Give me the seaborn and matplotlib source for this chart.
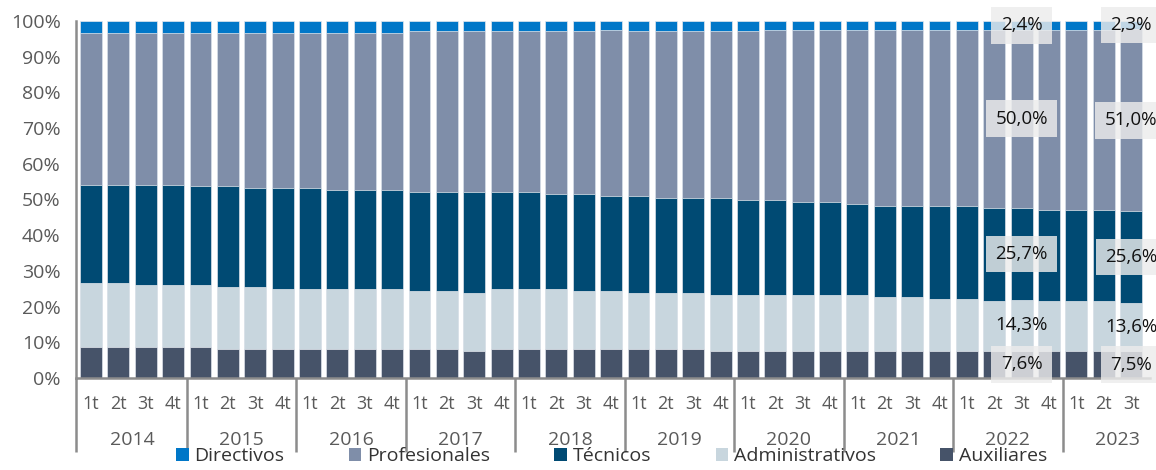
import matplotlib
matplotlib.use('Agg')
import matplotlib.pyplot as plt
import matplotlib.transforms as mtransforms
from matplotlib.patches import Patch
import numpy as np
import pandas as pd
import seaborn as sns

# ── DATA (share of employment by occupational group, %) ──────
years = ['2014', '2015', '2016', '2017', '2018', '2019', '2020', '2021', '2022', '2023']
quarters = ['1t', '2t', '3t', '4t']
n_quarters = [4, 4, 4, 4, 4, 4, 4, 4, 4, 3]

auxiliares = [8.7, 8.7, 8.7, 8.7, 8.7, 8.2, 8.2, 8.2, 8.2, 8.2, 8.2, 8.2,
              8.2, 8.2, 7.6, 8.2, 8.2, 8.2, 8.2, 8.2, 8.2, 8.2, 8.2, 7.6,
              7.6, 7.6, 7.6, 7.6, 7.6, 7.6, 7.6, 7.6, 7.6, 7.6, 7.6, 7.6,
              7.6, 7.6, 7.5]
administrativos = [17.9, 17.9, 17.3, 17.3, 17.3, 17.3, 17.3, 16.7, 16.7, 16.7, 16.7, 16.7,
                   16.2, 16.2, 16.2, 16.7, 16.7, 16.7, 16.2, 16.2, 15.6, 15.6, 15.6, 15.6,
                   15.6, 15.6, 15.6, 15.6, 15.6, 15.1, 15.1, 14.5, 14.5, 14.0, 14.3, 14.0,
                   14.0, 14.0, 13.6]
tecnicos = [27.6, 27.6, 28.2, 28.2, 27.7, 28.2, 27.6, 28.2, 28.2, 27.7, 27.7, 27.7,
            27.7, 27.7, 28.3, 27.2, 27.2, 26.6, 27.1, 26.6, 27.2, 26.6, 26.6, 27.2,
            26.7, 26.7, 26.1, 26.1, 25.5, 25.5, 25.5, 26.1, 26.1, 26.0, 25.7, 25.5,
            25.5, 25.5, 25.6]
profesionales = [42.4, 42.4, 42.4, 42.4, 42.9, 42.9, 43.5, 43.5, 43.5, 44.0, 44.0, 44.0,
                 45.0, 45.0, 45.0, 45.0, 45.0, 45.6, 45.6, 46.6, 46.1, 46.7, 46.7, 46.7,
                 47.2, 47.7, 48.3, 48.3, 48.9, 49.4, 49.4, 49.4, 49.4, 50.0, 50.0, 50.5,
                 50.5, 50.5, 51.0]
directivos = [3.4, 3.4, 3.4, 3.4, 3.4, 3.4, 3.4, 3.4, 3.4, 3.4, 3.4, 3.4,
              2.9, 2.9, 2.9, 2.9, 2.9, 2.9, 2.9, 2.4, 2.9, 2.9, 2.9, 2.9,
              2.9, 2.4, 2.4, 2.4, 2.4, 2.4, 2.4, 2.4, 2.4, 2.4, 2.4, 2.4,
              2.4, 2.4, 2.3]

# bars that carry value labels (2022 3t and 2023 3t)
labelled = ['2022 3t', '2023 3t']

CATS = ['Directivos', 'Profesionales', 'Técnicos', 'Administrativos', 'Auxiliares']
COLORS = {'Directivos': '#0077C8', 'Profesionales': '#7F8EA9', 'Técnicos': '#004A73',
          'Administrativos': '#C8D6DE', 'Auxiliares': '#465369'}
GREY = '#5a5a5a'
LINE = '#8c8c8c'

# ── TABLE ────────────────────────────────────────────────────
periods = [f'{y} {q}' for y, n in zip(years, n_quarters) for q in quarters[:n]]
df = pd.DataFrame({'periodo': periods, 'Auxiliares': auxiliares,
                   'Administrativos': administrativos, 'Técnicos': tecnicos,
                   'Profesionales': profesionales, 'Directivos': directivos})
stack_order = ['Auxiliares', 'Administrativos', 'Técnicos', 'Profesionales', 'Directivos']
cum = df[stack_order].cumsum(axis=1)

# ── FIGURE ───────────────────────────────────────────────────
sns.set_style('white')
plt.rcParams['font.family'] = ['Open Sans', 'DejaVu Sans']

W, H = 1156, 470
fig = plt.figure(figsize=(W / 100, H / 100), dpi=100)
ax = fig.add_axes([76 / W, 1 - 378 / H, (1150 - 76) / W, (378 - 21) / H])

# stacked bars: draw cumulative totals from the top segment down
for cat in stack_order[::-1]:
    sns.barplot(x=df['periodo'], y=cum[cat], order=periods, color=COLORS[cat],
                saturation=1, width=0.8, edgecolor='#e4e8ee', linewidth=0.5, ax=ax)

ax.set_xlim(-0.55, len(periods) - 1 + 0.69)
ax.set_ylim(0, 100)
ax.set_xlabel('')
ax.set_ylabel('')
ax.set_yticks(range(0, 101, 10))
ax.set_yticklabels([f'{v}%' for v in range(0, 101, 10)])
ax.tick_params(axis='y', length=7, width=1.2, color=LINE, labelsize=14, labelcolor=GREY, pad=4)
ax.tick_params(axis='x', length=0, labelbottom=False)
for side in ['top', 'right']:
    ax.spines[side].set_visible(False)
for side in ['left', 'bottom']:
    ax.spines[side].set_color(LINE)
    ax.spines[side].set_linewidth(1.8)

# ── TWO-LEVEL X AXIS ─────────────────────────────────────────
trans = mtransforms.blended_transform_factory(ax.transData, ax.transAxes)
pos = 0
for y, n in zip(years, n_quarters):
    for i in range(n):
        ax.text(pos + i, -0.073, quarters[i], transform=trans, ha='center', va='center',
                fontsize=13, color=GREY)
    ax.text(pos + 1.5, -0.174, y, transform=trans, ha='center', va='center',
            fontsize=14, color=GREY)
    x_sep = -0.55 if pos == 0 else pos - 0.5
    ax.plot([x_sep, x_sep], [0, -0.207], transform=trans, color=LINE, lw=1.8,
            clip_on=False, solid_capstyle='butt')
    pos += n

# ── VALUE LABELS ─────────────────────────────────────────────
box = dict(boxstyle='square,pad=0.5', fc='#ececec', ec='none', alpha=0.82)
for per in labelled:
    idx = periods.index(per)
    row = df.loc[idx]
    bottom = 0
    for cat in stack_order:
        val = row[cat]
        ax.text(idx, bottom + val / 2, f'{val:.1f}%'.replace('.', ','), ha='center', va='center',
                fontsize=13.5, color='#111111', zorder=10,
                bbox=None if cat == 'Administrativos' else box, clip_on=False)
        bottom += val

# ── LEGEND ───────────────────────────────────────────────────
handles = [Patch(facecolor=COLORS[c], edgecolor='none') for c in CATS]
fig.legend(handles, CATS, loc='center', bbox_to_anchor=(0.529, 0.03), ncol=5, frameon=False,
           fontsize=14, handlelength=0.65, handleheight=0.65, handletextpad=0.3,
           columnspacing=3.3, labelcolor='#333333')

fig.savefig('out.png', dpi=100)
plt.close(fig)
